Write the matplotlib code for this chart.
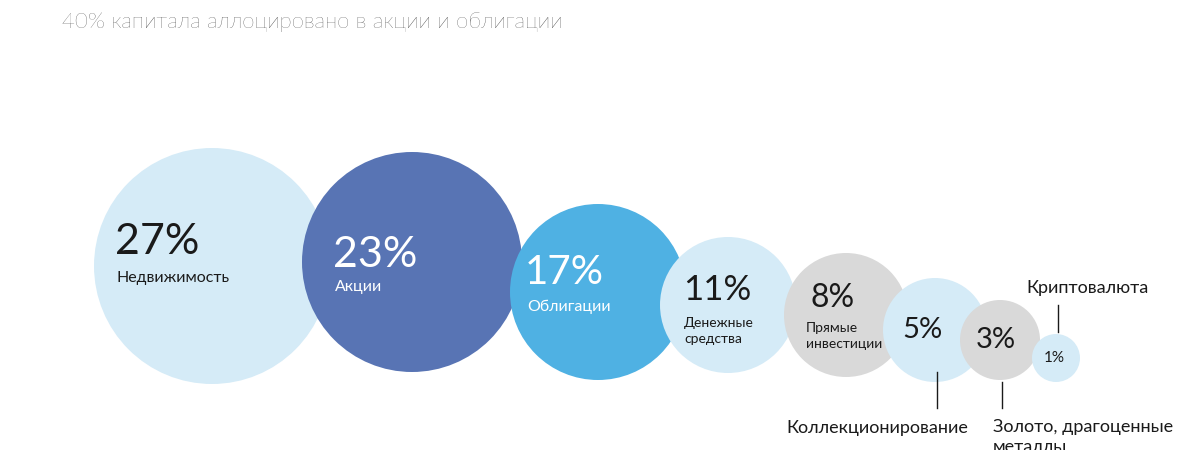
import matplotlib.pyplot as plt
from matplotlib.patches import Circle

# data
shares = [27, 23, 17, 11, 8, 5, 3, 1]
labels = ["Недвижимость", "Акции", "Облигации", "Денежные\nсредства",
          "Прямые\nинвестиции", "Коллекционирование",
          "Золото, драгоценные\nметаллы", "Криптовалюта"]

# layout (pixels)
centers_x = [212, 412, 598, 728, 846, 935, 1000, 1056]
centers_y = [266, 262, 292, 305, 315, 330, 340, 358]
radii = [118, 110, 88, 68, 62, 52, 40, 24]
colors = ["#d5ebf7", "#5874b4", "#4fb1e3", "#d5ebf7", "#d9d9d9", "#d5ebf7", "#d9d9d9", "#d5ebf7"]
pct_colors = ["#1a1a1a", "white", "white", "#1a1a1a", "#1a1a1a", "#1a1a1a", "#1a1a1a", "#1a1a1a"]
pct_xy = [(115, 242), (333, 255), (525, 273), (683, 290), (811, 298), (902, 330), (976, 340), (1044, 358)]
pct_size = [31, 31, 29, 25, 23, 21, 21, 11]
lab_xy = [(117, 278), (335, 287), (527, 307), (684, 331), (806, 336)]
lab_size = [11.5, 11.5, 11.5, 10, 10]

plt.rcParams["font.family"] = "Lato"
fig = plt.figure(figsize=(12, 4.5), dpi=100)
ax = fig.add_axes([0, 0, 1, 1])
ax.set_xlim(0, 1200)
ax.set_ylim(450, 0)
ax.set_aspect("equal")
ax.axis("off")

for i in range(len(shares)):
    ax.add_patch(Circle((centers_x[i], centers_y[i]), radii[i], color=colors[i], lw=0))
    ax.text(pct_xy[i][0], pct_xy[i][1], f"{shares[i]}%", fontsize=pct_size[i],
            color=pct_colors[i], va="center", ha="left")
    if i < len(lab_xy):
        ax.text(lab_xy[i][0], lab_xy[i][1], labels[i], fontsize=lab_size[i],
                color=pct_colors[i], va="center", ha="left", linespacing=1.4)

# callouts
ax.plot([937, 937], [372, 408], color="#1a1a1a", lw=1)
ax.text(968, 428, labels[5], fontsize=13, ha="right", va="center", color="#1a1a1a")
ax.plot([1002, 1002], [382, 408], color="#1a1a1a", lw=1)
ax.text(993, 419, labels[6], fontsize=13, ha="left", va="top", color="#1a1a1a",
        linespacing=1.3)
ax.plot([1058, 1058], [305, 332], color="#1a1a1a", lw=1)
ax.text(1087, 288, labels[7], fontsize=13, ha="center", va="center", color="#1a1a1a")

ax.text(62, 22, "40% капитала аллоцировано в акции и облигации", fontsize=16,
        ha="left", va="center", color="#1a1a1a", fontweight="light")

fig.savefig("out.png")
